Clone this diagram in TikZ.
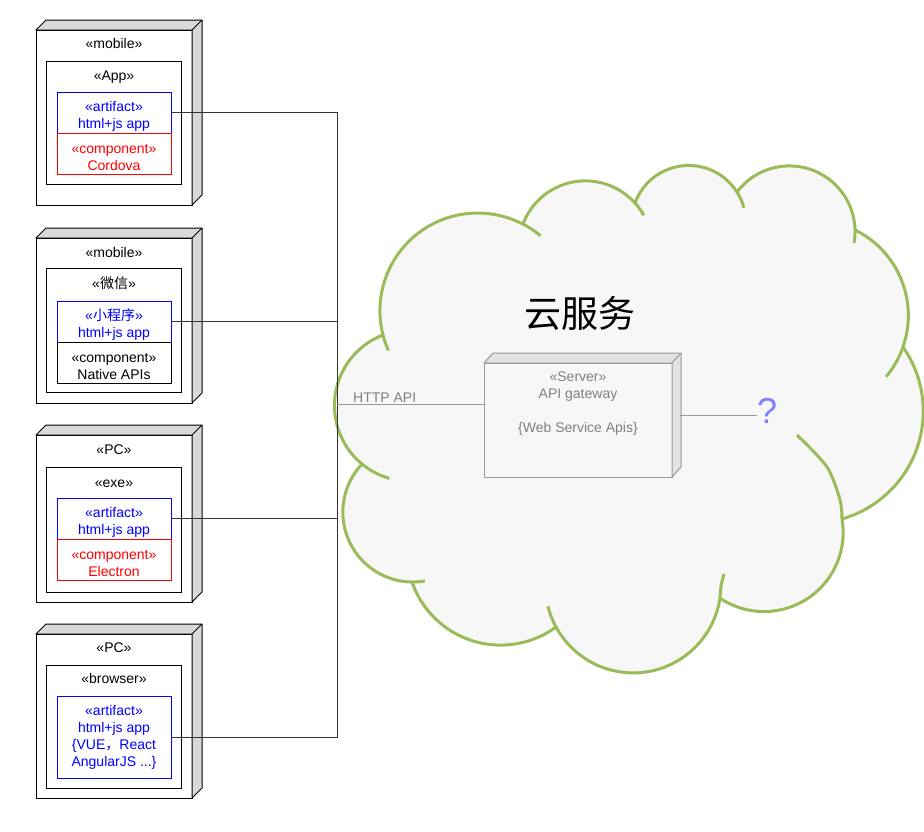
\documentclass[tikz,border=0pt]{standalone}
\usepackage{fontspec}
\setmainfont{Liberation Sans}
\newfontfamily\cjk{Noto Sans CJK SC}
\usepackage{tikz}
\usetikzlibrary{positioning, calc}
\definecolor{cloudgreen}{HTML}{9BBB59}
\definecolor{cloudbg}{HTML}{F7F7F7}
\definecolor{facegray}{HTML}{D9D9D9}
\definecolor{srvgray}{HTML}{999999}
\definecolor{srvface}{HTML}{E3E3E3}
\definecolor{srvtext}{HTML}{808080}
\definecolor{qblue}{HTML}{7F7FFF}
\newcommand{\tallline}{\rule{0pt}{18pt}} % first line a bit taller, so two lines sit lower in the box
\tikzset{%
  dev/.style={draw, fill=white, line width=1pt, minimum width=156pt, inner sep=0pt, outer sep=0pt, anchor=north west},
  devface/.style={fill=facegray, draw=black, line width=1pt, line join=round},
  inbox/.style={draw, fill=white, line width=1pt, minimum width=135pt, inner sep=0pt, outer sep=0pt},
  lbl/.style={inner sep=0pt, text height=10pt, text depth=3pt},
  art/.style={draw=blue, text=blue, fill=white, line width=1pt, minimum width=114pt, minimum height=41pt, align=center, inner sep=0pt, outer sep=0pt},
  comp/.style={art, draw=red, text=red},
  cloud/.style={fill=cloudbg, draw=cloudgreen, line width=3pt, line join=round},
  cloudstub/.style={draw=cloudgreen, line width=3pt},
  srv/.style={draw=srvgray, fill=cloudbg, line width=1pt, minimum width=188pt, minimum height=114pt, inner sep=0pt, outer sep=0pt},
  srvside/.style={fill=srvface, draw=srvgray, line width=1pt, line join=round},
  gtext/.style={text=srvtext, align=center, inner sep=0pt},
  gline/.style={draw=srvgray, line width=1pt},
  wire/.style={draw=black!80, line width=1pt}
}
\begin{document}
\begin{tikzpicture}[x=1pt, y=-1pt, every node/.style={font=\fontsize{14}{17}\selectfont}]
\useasboundingbox (0,0) rectangle (924,831);

% the cloud, one arc per lobe
\filldraw[cloud] (383,335) arc[start angle=165.6, end angle=297.6, radius=97.7]
  -- (523,224) arc[start angle=200.7, end angle=318, radius=66.7]
  -- (635,203) arc[start angle=200, end angle=327.7, radius=57.1]
  -- (737,192) arc[start angle=217.1, end angle=358.6, radius=65.7]
  -- (855,230) arc[start angle=296.1, end angle=379.3, radius=95.2]
  -- (903,347) arc[start angle=325, end angle=434, radius=112]
  -- (842,519) arc[start angle=350.2, end angle=483.9, radius=79.1]
  -- (720,598) arc[start angle=8.45, end angle=151.5, radius=87.8]
  -- (556,627) arc[start angle=53.8, end angle=160.9, radius=93.8]
  -- (412,582) arc[start angle=90.6, end angle=223.5, radius=69.9]
  -- (362,464) arc[start angle=129.5, end angle=248.9, radius=75.7]
  -- cycle;
% inner arcs
\draw[cloudstub] (383,335) arc[start angle=165.6, end angle=156, radius=97.7];
\draw[cloudstub] (523,224) arc[start angle=297.6, end angle=310, radius=97.7];
\draw[cloudstub] (635,203) arc[start angle=318, end angle=331, radius=66.7];
\draw[cloudstub] (737,192) arc[start angle=327.7, end angle=345, radius=57.1];
\draw[cloudstub] (855,230) arc[start angle=358.6, end angle=370, radius=65.7];
\draw[cloudstub] (903,347) arc[start angle=379.3, end angle=400, radius=95.2];
\draw[cloudstub] plot[smooth] coordinates {(842,519) (840,500) (827,467) (797,435)};
\draw[cloudstub] plot[smooth] coordinates {(720,598) (721,586) (724,574)};
\draw[cloudstub] (556,627) arc[start angle=151.5, end angle=166, radius=87.8];
\draw[cloudstub] (412,582) arc[start angle=90.6, end angle=80, radius=69.9];
\draw[cloudstub] (362,464) arc[start angle=129.5, end angle=106, radius=75.7];

\node[font=\cjk\fontsize{37}{40}\selectfont] (title) at (580,313) {云服务};

% server
\node[srv, anchor=north west] (srv) at (484,363) {};
\filldraw[srvside] (srv.north west) -- ++(9,-10) -- ($(srv.north east)+(9,-10)$) -- ($(srv.south east)+(9,-10)$) -- (srv.south east) -- (srv.north east) -- cycle;
\draw[srvside] (srv.north east) -- ++(9,-10);
\node[gtext, below=9pt of srv.north] (srvt) {«Server»\\API gateway\\[17pt]\{Web Service Apis\}};

% mobile app
\node[dev, minimum height=175pt] (d1) at (36,30) {};
\node[lbl, below=8pt of d1.north] (d1l) {«mobile»};
\node[inbox, minimum height=123pt, below=31pt of d1.north] (i1) {};
\node[lbl, below=9pt of i1.north] (i1l) {«App»};
\node[art, below=31pt of i1.north] (a1) {\tallline«artifact»\\html+js app};
\node[comp, below=0pt of a1] (c1) {\tallline«component»\\Cordova};

% mobile weixin
\node[dev, minimum height=165pt] (d2) at (36,238) {};
\node[lbl, below=9pt of d2.north] (d2l) {«mobile»};
\node[inbox, minimum height=124pt, below=30pt of d2.north] (i2) {};
\node[lbl, below=10pt of i2.north] (i2l) {«{\cjk 微信}»};
\node[art, below=33pt of i2.north] (a2) {\tallline«{\cjk 小程序}»\\html+js app};
\node[comp, draw=black, text=black, below=0pt of a2] (c2) {\tallline«component»\\Native APIs};

% pc exe
\node[dev, minimum height=167pt] (d3) at (36,435) {};
\node[lbl, below=9.5pt of d3.north] (d3l) {«PC»};
\node[inbox, minimum height=125pt, below=32pt of d3.north] (i3) {};
\node[lbl, below=10pt of i3.north] (i3l) {«exe»};
\node[art, below=31pt of i3.north] (a3) {\tallline«artifact»\\html+js app};
\node[comp, below=0pt of a3] (c3) {\tallline«component»\\Electron};

% pc browser
\node[dev, minimum height=164pt] (d4) at (36,634) {};
\node[lbl, below=8pt of d4.north] (d4l) {«PC»};
\node[inbox, minimum height=123pt, below=31pt of d4.north] (i4) {};
\node[lbl, below=8pt of i4.north] (i4l) {«browser»};
\node[art, minimum height=82pt, below=31pt of i4.north] (a4) {«artifact»\\html+js app\\\{VUE{\cjk ，}React\\AngularJS ...\}};

\foreach \n in {d1,d2,d3,d4} {
  \filldraw[devface] (\n.north west) -- ++(10,-10) -- ($(\n.north east)+(10,-10)$) -- ($(\n.south east)+(10,-10)$) -- (\n.south east) -- (\n.north east) -- cycle;
  \draw[devface] (\n.north east) -- ++(10,-10);
}

% links
\coordinate (bus) at (337,0);
\draw[wire] (a1.east) -- (a1.east -| bus) -- (a4.east -| bus) -- (a4.east);
\draw[wire] (a2.east) -- (a2.east -| bus);
\draw[wire] (a3.east) -- (a3.east -| bus);

\coordinate (http) at (337,404);
\draw[gline] (http) -- (http -| srv.west);
\node[gtext, anchor=base west] (httpl) at (353,402) {HTTP API};

\coordinate (q1) at (680,415);
\node[text=qblue, inner sep=0pt, anchor=base west, font=\fontsize{36}{40}\selectfont] (q) at (757,423) {?};
\draw[gline] (q1) -- (q1 -| q.west);
\end{tikzpicture}
\end{document}
